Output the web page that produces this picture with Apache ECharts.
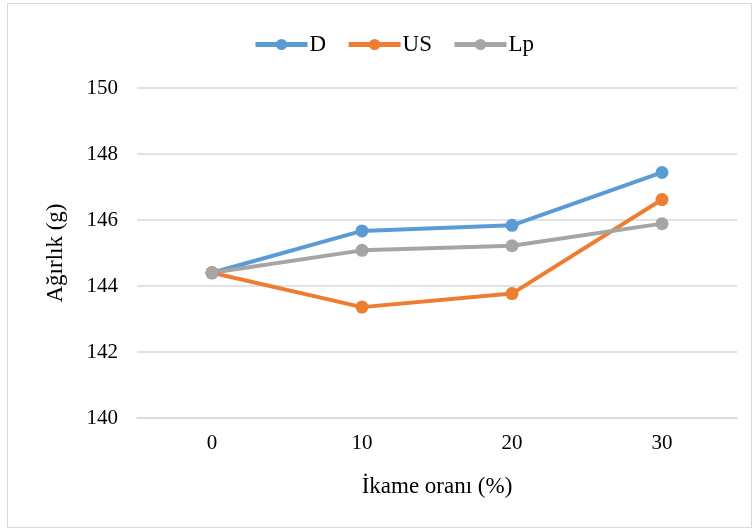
<!DOCTYPE html>
<html>
<head>
<meta charset="utf-8">
<script src="https://cdn.jsdelivr.net/npm/echarts@6/dist/echarts.min.js"></script>
<style>
  html, body { margin: 0; padding: 0; background: #fff; }
  #frame { position: absolute; left: 7px; top: 3px; width: 745px; height: 525px; border: 1px solid #d9d9d9; box-sizing: border-box; }
  #chart { position: absolute; left: 0; top: 0; width: 755px; height: 531px; }
</style>
</head>
<body>
<div id="frame"></div>
<div id="chart"></div>
<script>
const categories = ['0', '10', '20', '30'];
const seriesNames = ['D', 'US', 'Lp'];
const valuesD = [144.4, 145.67, 145.84, 147.44];
const valuesUS = [144.4, 143.36, 143.77, 146.62];
const valuesLp = [144.4, 145.08, 145.22, 145.89];
const colors = ['#5B9BD5', '#ED7D31', '#A5A5A5'];

const font = 'Liberation Serif, Times New Roman, serif';
const chart = echarts.init(document.getElementById('chart'));

function lineSeries(name, data, color) {
  return {
    name: name,
    type: 'line',
    data: data,
    symbol: 'circle',
    symbolSize: 13,
    lineStyle: { width: 4, color: color },
    itemStyle: { color: color },
    emphasis: { disabled: true }
  };
}

chart.setOption({
  animation: false,
  color: colors,
  legend: {
    top: 28,
    left: 248,
    itemWidth: 52,
    itemHeight: 14,
    itemGap: 20,
    lineStyle: { width: 5 },
    textStyle: { fontFamily: font, fontSize: 23, color: '#000', padding: [0, 0, 0, -3] },
    data: seriesNames
  },
  grid: { left: 137, right: 18, top: 88, bottom: 113 },
  xAxis: {
    type: 'category',
    data: categories,
    boundaryGap: true,
    name: 'İkame oranı (%)',
    nameLocation: 'middle',
    nameGap: 57,
    nameTextStyle: { fontFamily: font, fontSize: 23, color: '#000' },
    axisLine: { lineStyle: { color: '#d9d9d9', width: 1.5 } },
    axisTick: { show: false },
    axisLabel: { fontFamily: font, fontSize: 21, color: '#000', margin: 15 }
  },
  yAxis: {
    type: 'value',
    min: 140,
    max: 150,
    interval: 2,
    name: 'Ağırlık (g)',
    nameLocation: 'middle',
    nameGap: 70,
    nameTextStyle: { fontFamily: font, fontSize: 23, color: '#000' },
    axisLine: { show: false },
    axisTick: { show: false },
    axisLabel: { fontFamily: font, fontSize: 21, color: '#000', margin: 19 },
    splitLine: { lineStyle: { color: '#d9d9d9', width: 1.5 } }
  },
  series: [
    lineSeries(seriesNames[0], valuesD, colors[0]),
    lineSeries(seriesNames[1], valuesUS, colors[1]),
    lineSeries(seriesNames[2], valuesLp, colors[2])
  ]
});
</script>
</body>
</html>
